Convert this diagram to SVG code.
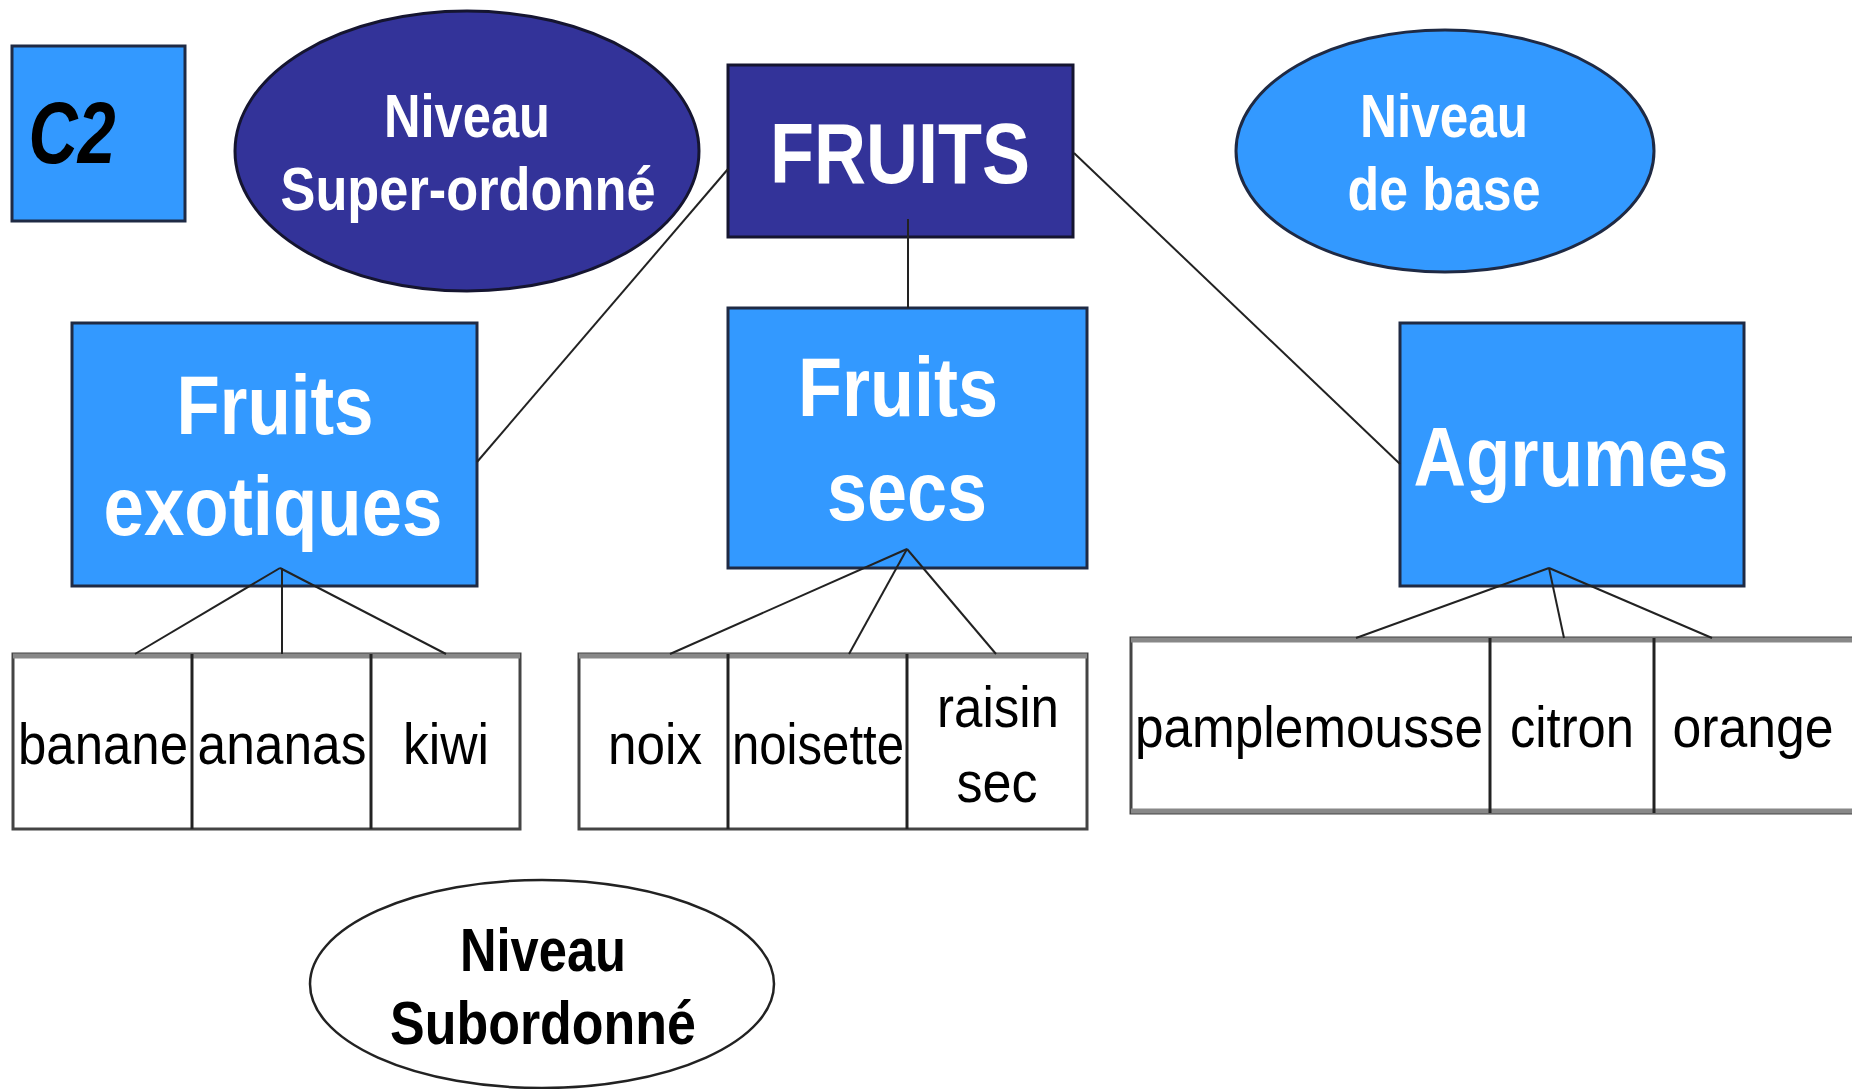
<svg xmlns="http://www.w3.org/2000/svg" width="1852" height="1089" viewBox="0 0 1852 1089">
<style>
.blue{fill:#3399FF;stroke:#1f2a44;stroke-width:3}
.dark{fill:#333399;stroke:#151530;stroke-width:3}
.leaf{fill:#ffffff;stroke:#444;stroke-width:3}
.div{stroke:#222;stroke-width:3}
.topedge{stroke:#888;stroke-width:5}
.conn{stroke:#222;stroke-width:2;fill:none}
.wb{font-family:"Liberation Sans",Arial,sans-serif;font-weight:bold;fill:#ffffff;text-anchor:middle}
.bb{font-family:"Liberation Sans",Arial,sans-serif;font-weight:bold;fill:#000;text-anchor:middle}
.leaft{font-family:"Liberation Sans",Arial,sans-serif;fill:#000;font-size:58px;text-anchor:middle}
</style>
<rect width="1852" height="1089" fill="#ffffff"/>
<g id="c2">
<rect class="blue" x="12" y="46" width="173" height="175"/>
<text x="72" y="163" font-family="'Liberation Sans',Arial,sans-serif" font-weight="bold" font-style="italic" font-size="88" fill="#000" text-anchor="middle" textLength="87" lengthAdjust="spacingAndGlyphs">C2</text>
</g>
<g id="niveau-super">
<ellipse class="dark" cx="467" cy="151" rx="232" ry="140"/>
<text class="wb" x="467" y="137" font-size="62" textLength="166" lengthAdjust="spacingAndGlyphs">Niveau</text>
<text class="wb" x="468" y="210" font-size="62" textLength="375" lengthAdjust="spacingAndGlyphs">Super-ordonné</text>
</g>
<g id="fruits">
<rect class="dark" x="728" y="65" width="345" height="172"/>
<text class="wb" x="900" y="183" font-size="85" textLength="260" lengthAdjust="spacingAndGlyphs">FRUITS</text>
</g>
<g id="niveau-base">
<ellipse class="blue" cx="1445" cy="151" rx="209" ry="121"/>
<text class="wb" x="1444" y="137" font-size="62" textLength="168" lengthAdjust="spacingAndGlyphs">Niveau</text>
<text class="wb" x="1444" y="210" font-size="62" textLength="193" lengthAdjust="spacingAndGlyphs">de base</text>
</g>
<g id="fruits-exotiques">
<rect class="blue" x="72" y="323" width="405" height="263"/>
<text class="wb" x="275" y="434" font-size="84" textLength="197" lengthAdjust="spacingAndGlyphs">Fruits</text>
<text class="wb" x="273" y="535" font-size="84" textLength="339" lengthAdjust="spacingAndGlyphs">exotiques</text>
</g>
<g id="fruits-secs">
<rect class="blue" x="728" y="308" width="359" height="260"/>
<text class="wb" x="898" y="416" font-size="84" textLength="200" lengthAdjust="spacingAndGlyphs">Fruits</text>
<text class="wb" x="907" y="520" font-size="84" textLength="160" lengthAdjust="spacingAndGlyphs">secs</text>
</g>
<g id="agrumes">
<rect class="blue" x="1400" y="323" width="344" height="263"/>
<text class="wb" x="1571" y="486" font-size="84" textLength="315" lengthAdjust="spacingAndGlyphs">Agrumes</text>
</g>
<g id="exotiques-items">
<rect class="leaf" x="13" y="654" width="507" height="175"/>
<line class="topedge" x1="13" y1="656" x2="520" y2="656"/>
<line class="div" x1="192" y1="654" x2="192" y2="829"/>
<line class="div" x1="371" y1="654" x2="371" y2="829"/>
<text class="leaft" x="103" y="764" textLength="170" lengthAdjust="spacingAndGlyphs">banane</text>
<text class="leaft" x="282" y="764" textLength="169" lengthAdjust="spacingAndGlyphs">ananas</text>
<text class="leaft" x="446" y="764" textLength="86" lengthAdjust="spacingAndGlyphs">kiwi</text>
</g>
<g id="secs-items">
<rect class="leaf" x="579" y="654" width="508" height="175"/>
<line class="topedge" x1="579" y1="656" x2="1087" y2="656"/>
<line class="div" x1="728" y1="654" x2="728" y2="829"/>
<line class="div" x1="907" y1="654" x2="907" y2="829"/>
<text class="leaft" x="655" y="764" textLength="94" lengthAdjust="spacingAndGlyphs">noix</text>
<text class="leaft" x="818" y="764" textLength="172" lengthAdjust="spacingAndGlyphs">noisette</text>
<text class="leaft" x="998" y="727" textLength="122" lengthAdjust="spacingAndGlyphs">raisin</text>
<text class="leaft" x="997" y="802" textLength="81" lengthAdjust="spacingAndGlyphs">sec</text>
</g>
<g id="agrumes-items">
<rect class="leaf" x="1131" y="638" width="740" height="175"/>
<line class="topedge" x1="1131" y1="640" x2="1852" y2="640"/>
<line class="topedge" x1="1131" y1="811" x2="1852" y2="811"/>
<line class="div" x1="1490" y1="638" x2="1490" y2="813"/>
<line class="div" x1="1654" y1="638" x2="1654" y2="813"/>
<text class="leaft" x="1309" y="747" textLength="348" lengthAdjust="spacingAndGlyphs">pamplemousse</text>
<text class="leaft" x="1572" y="747" textLength="124" lengthAdjust="spacingAndGlyphs">citron</text>
<text class="leaft" x="1753" y="747" textLength="161" lengthAdjust="spacingAndGlyphs">orange</text>
</g>
<g id="niveau-subordonne">
<ellipse cx="542" cy="984" rx="232" ry="104" fill="#ffffff" stroke="#222" stroke-width="2.5"/>
<text class="bb" x="543" y="971" font-size="62" textLength="166" lengthAdjust="spacingAndGlyphs">Niveau</text>
<text class="bb" x="543" y="1044" font-size="62" textLength="306" lengthAdjust="spacingAndGlyphs">Subordonné</text>
</g>
<g id="connectors">
<line class="conn" x1="728" y1="169" x2="477" y2="462"/>
<line class="conn" x1="908" y1="219" x2="908" y2="308"/>
<line class="conn" x1="1074" y1="153" x2="1400" y2="464"/>
<line class="conn" x1="280" y1="568" x2="135" y2="654"/>
<line class="conn" x1="282" y1="568" x2="282" y2="654"/>
<line class="conn" x1="280" y1="568" x2="446" y2="654"/>
<line class="conn" x1="907" y1="549" x2="670" y2="654"/>
<line class="conn" x1="907" y1="549" x2="849" y2="654"/>
<line class="conn" x1="907" y1="549" x2="996" y2="654"/>
<line class="conn" x1="1549" y1="568" x2="1356" y2="638"/>
<line class="conn" x1="1549" y1="568" x2="1564" y2="638"/>
<line class="conn" x1="1549" y1="568" x2="1712" y2="638"/>
</g>
</svg>
